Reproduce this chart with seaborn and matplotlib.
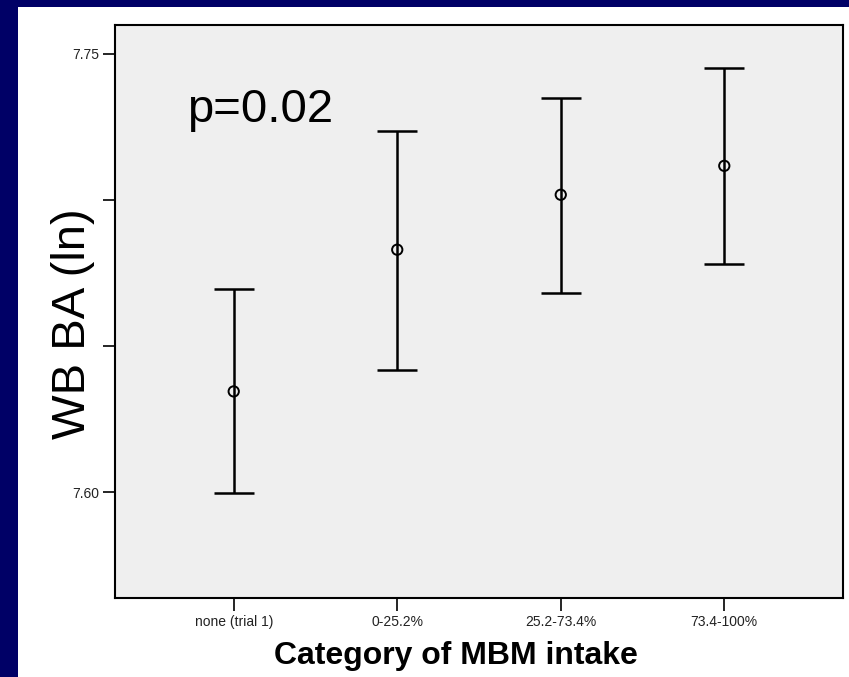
import numpy as np
import pandas as pd
import matplotlib
matplotlib.use("Agg")
import matplotlib.pyplot as plt
from matplotlib.patches import Rectangle
import seaborn as sns

categories = ["none (trial 1)", "0-25.2%", "25.2-73.4%", "73.4-100%"]
means = [7.6345, 7.6830, 7.7018, 7.7117]
lower = [7.5997, 7.6420, 7.6683, 7.6782]
upper = [7.6694, 7.7237, 7.7350, 7.7451]
ytick_vals = [7.60, 7.65, 7.70, 7.75]
ytick_labels = ["7.60", "", "", "7.75"]

sns.set_theme(style="white")
plt.rcParams["font.family"] = ["Liberation Sans", "DejaVu Sans"]

W, H = 849, 677
fig = plt.figure(figsize=(W / 100, H / 100), dpi=100)
fig.patch.set_facecolor("#000066")
fig.patches.append(Rectangle((18 / W, 0), 1 - 18 / W, 1 - 7 / H,
                             transform=fig.transFigure, facecolor="white",
                             edgecolor="none", zorder=-10))

L, R, T, B = 115, 843, 25, 598
ax = fig.add_axes([L / W, 1 - B / H, (R - L) / W, (B - T) / H])
ax.set_zorder(5)
ax.set_facecolor("#EFEFEF")

df = pd.DataFrame({"cat": categories, "mean": means, "lo": lower, "hi": upper})
x = np.arange(len(categories))
yerr = np.vstack([df["mean"] - df["lo"], df["hi"] - df["mean"]])
ax.errorbar(x, df["mean"], yerr=yerr, fmt="none", ecolor="black",
            elinewidth=1.8, capsize=14.6, capthick=1.8, zorder=2)
sns.scatterplot(data=df, x="cat", y="mean", ax=ax, marker="o", s=55,
                facecolor="none", edgecolor="black", linewidth=1.4, zorder=3)

ax.set_xlim(-0.726, 3.726)
ax.set_ylim(7.5638, 7.7599)
ax.set_yticks(ytick_vals)
ax.set_yticklabels(ytick_labels)
ax.set_xticks(x)
ax.set_xticklabels(categories)
ax.tick_params(axis="both", which="both", direction="out", length=9, width=1.2,
               color="black", labelsize=10, labelcolor="#222222", pad=2,
               left=True, bottom=True)
ax.tick_params(axis="x", length=9, pad=3)
for s in ax.spines.values():
    s.set_color("black")
    s.set_linewidth(1.5)
    s.set_visible(True)

ax.set_xlabel("Category of MBM intake", fontsize=23, fontweight="bold", color="black")
ax.xaxis.set_label_coords((456 - L) / (R - L), (B - 641) / (B - T))
ax.set_ylabel("WB BA (ln)", fontsize=34, color="black")
ax.yaxis.set_label_coords((95 - L) / (R - L), (B - 324) / (B - T))

ax.text((187 - L) / (R - L), (B - 122) / (B - T), "p=0.02", transform=ax.transAxes,
        fontsize=34, color="black", ha="left", va="baseline")

fig.savefig("out.png", dpi=100, facecolor=fig.get_facecolor())
